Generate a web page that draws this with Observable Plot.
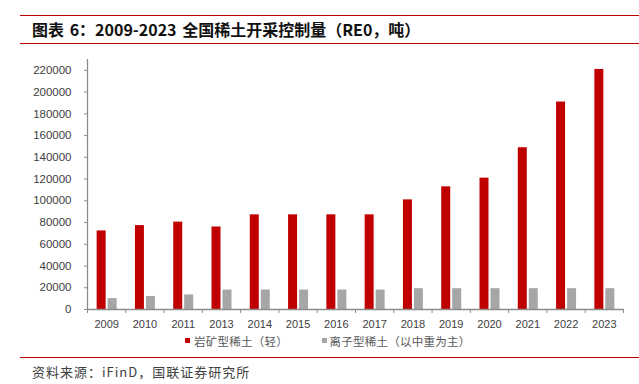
<!DOCTYPE html>
<html>
<head>
<meta charset="utf-8">
<script src="https://cdn.jsdelivr.net/npm/d3@7"></script>
<script src="https://cdn.jsdelivr.net/npm/@observablehq/plot@0.6"></script>
<style>
  html, body { margin: 0; padding: 0; background: #fff; }
  #page { position: relative; width: 639px; height: 384px; overflow: hidden; background: #fff; }
  .hline { position: absolute; left: 20px; right: 0; height: 0; border-top: 1px solid #C00000; }
  #title { position: absolute; left: 32px; top: 19px; font-family: "Noto Sans CJK SC", sans-serif; font-weight: 700; font-size: 16px; line-height: 20px; color: #111; white-space: nowrap; word-spacing: 2px; }
  #chart { position: absolute; left: 0; top: 48px; }
  #legend { position: absolute; top: 333px; left: 0; height: 16px; font-family: "Noto Sans CJK SC", sans-serif; font-size: 11.5px; letter-spacing: 0.25px; color: #595959; line-height: 16px; white-space: nowrap; }
  .sw { position: absolute; top: 4.5px; width: 5px; height: 5px; }
  .lt { position: absolute; top: 0; }
  #source { position: absolute; left: 32px; top: 363px; font-family: "Noto Sans CJK SC", sans-serif; font-size: 13px; letter-spacing: 1px; line-height: 18px; color: #404040; white-space: nowrap; }
</style>
</head>
<body>
<div id="page">
  <div class="hline" style="top:15px;"></div>
  <div id="title">图表 6：2009-2023 全国稀土开采控制量（RE0，吨）</div>
  <div class="hline" style="top:43px;"></div>
  <div id="chart"></div>
  <div id="legend"></div>
  <div class="hline" style="top:357px;"></div>
  <div id="source">资料来源：iFinD，国联证券研究所</div>
</div>
<script>
// Data
const years = ["2009","2010","2011","2013","2014","2015","2016","2017","2018","2019","2020","2021","2022","2023"];
const rockType = [72300, 77200, 80400, 75900, 87100, 87100, 87100, 87100, 100850, 112850, 120850, 148850, 190850, 220850];
const ionType  = [10000, 12000, 13400, 17900, 17900, 17900, 17900, 17900, 19150, 19150, 19150, 19150, 19150, 19150];
const seriesNames = ["岩矿型稀土（轻）", "离子型稀土（以中重为主）"];
const seriesColors = ["#C00000", "#A6A6A6"];
const yTicks = [0, 20000, 40000, 60000, 80000, 100000, 120000, 140000, 160000, 180000, 200000, 220000];

const table = years.map((y, i) => ({year: y, rock: rockType[i], ion: ionType[i]}));

const W = 639, H = 285, mL = 87, mR = 16, mT = 11, mB = 24;
const step = (W - mL - mR) / years.length;
const axisColor = "#8c8c8c";

const chart = Plot.plot({
  width: W, height: H,
  marginLeft: mL, marginRight: mR, marginTop: mT, marginBottom: mB,
  style: {fontFamily: "'Liberation Sans', Arial, sans-serif", fontSize: "11px", background: "transparent", overflow: "visible"},
  x: {domain: years, paddingInner: 0.765, paddingOuter: 0.3825, round: false, axis: null, label: null},
  y: {domain: [0, 230000], axis: null, label: null},
  marks: [
    Plot.barY(table, {x: "year", y: "rock", fill: seriesColors[0], dx: -5}),
    Plot.barY(table, {x: "year", y: "ion", fill: seriesColors[1], dx: 6}),
    Plot.ruleY([0], {stroke: axisColor, strokeWidth: 1.3}),
    Plot.ruleX([years[0]], {y1: 0, y2: 230000, dx: -step / 2, stroke: axisColor, strokeWidth: 1.3}),
    Plot.axisY(yTicks, {label: null, tickSize: 3, tickPadding: 13, tickFormat: d => String(d), stroke: axisColor, fill: "#404040", fontSize: 11.5}),
    Plot.axisX(years, {label: null, tickSize: 0, tickPadding: 11, fill: "#404040", fontSize: 11}),
    Plot.axisX(years, {label: null, tickSize: 4, tickFormat: () => "", dx: -step / 2, stroke: axisColor}),
    Plot.axisX([years[years.length - 1]], {label: null, tickSize: 4, tickFormat: () => "", dx: step / 2, stroke: axisColor})
  ]
});
document.getElementById("chart").appendChild(chart);

// Legend
const legend = document.getElementById("legend");
const legendPos = [[185, 194], [321.5, 329.5]];
seriesNames.forEach((name, i) => {
  const sw = document.createElement("div");
  sw.className = "sw";
  sw.style.left = legendPos[i][0] + "px";
  sw.style.background = seriesColors[i];
  legend.appendChild(sw);
  const t = document.createElement("div");
  t.className = "lt";
  t.style.left = legendPos[i][1] + "px";
  t.textContent = name;
  legend.appendChild(t);
});
</script>
</body>
</html>
